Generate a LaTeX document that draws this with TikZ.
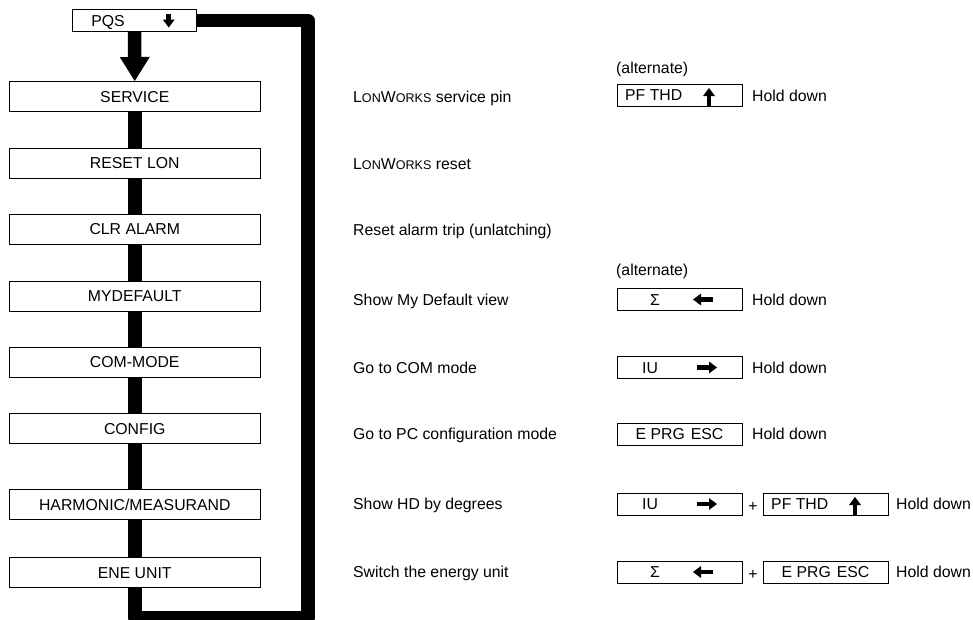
\documentclass[tikz,border=0pt]{standalone}
\usepackage{fontspec}
\setmainfont{Liberation Sans}
\usetikzlibrary{arrows.meta}
\newcommand{\smc}[1]{{\fontsize{12.6}{14}\selectfont #1}}
\begin{document}
\begin{tikzpicture}[x=1pt,y=-1pt,
  every node/.style={font=\fontsize{15.8}{18}\selectfont, inner sep=0pt, text height=11.3pt, text depth=0pt},
  menubox/.style={draw, line width=1pt, fill=white, minimum width=250.5pt, minimum height=30pt},
  keybox/.style={draw, line width=0.9pt, fill=white, minimum width=125pt, minimum height=22pt},
  desc/.style={anchor=west},
  flow/.style={line width=13.5pt},
  keyarrow/.style={line width=4.5pt, -{Triangle[length=8pt,width=12pt,line width=0pt]}},
]
\useasboundingbox (0,0) rectangle (973,619);

% left menu
\node[keybox, minimum width=124pt, minimum height=22.4pt] (pqs) at (134.7,20.5) {};
\node (pqst) at (108,20.5) {PQS};
\node[menubox] (service)   at (134.75,96.5) {SERVICE};
\node[menubox] (resetlon)  at (134.75,163)  {RESET LON};
\node[menubox] (clralarm)  at (134.75,229)  {CLR ALARM};
\node[menubox] (mydefault) at (134.75,296)  {MYDEFAULT};
\node[menubox] (commode)   at (134.75,362)  {COM-MODE};
\node[menubox] (config)    at (134.75,428.5) {CONFIG};
\node[menubox] (harmonic)  at (134.75,504.5) {HARMONIC/MEASURAND};
\node[menubox] (eneunit)   at (134.75,572.5) {ENE UNIT};

\draw[keyarrow] ([xshift=34pt,yshift=6.5pt]pqs.center) -- ([xshift=34pt,yshift=-7pt]pqs.center);

% flow
\draw[flow, -{Triangle[length=24pt,width=30pt,line width=0pt]}] (pqs) -- (service);
\draw[flow] (service) -- (resetlon);
\draw[flow] (resetlon) -- (clralarm);
\draw[flow] (clralarm) -- (mydefault);
\draw[flow] (mydefault) -- (commode);
\draw[flow] (commode) -- (config);
\draw[flow] (config) -- (harmonic);
\draw[flow] (harmonic) -- (eneunit);
\coordinate (lb) at (134.75,618);
\coordinate (rb) at (308,618);
\coordinate (rt) at (308,20.5);
\draw[flow, line join=round] (eneunit) -- (lb) -- (rb) -- (rt) -- (pqs);

% descriptions
\node[desc] (d1) at (353,97) {L\smc{ON}W\smc{ORKS} service pin};
\node[desc] (d2) at (353,164) {L\smc{ON}W\smc{ORKS} reset};
\node[desc] (d3) at (353,230) {Reset alarm trip (unlatching)};
\node[desc] (d4) at (353,300) {Show My Default view};
\node[desc] (d5) at (353,368) {Go to COM mode};
\node[desc] (d6) at (353,434) {Go to PC configuration mode};
\node[desc] (d7) at (353,504) {Show HD by degrees};
\node[desc] (d8) at (353,572) {Switch the energy unit};

% keys
\node[desc] (alt1) at (616,68) {(alternate)};
\node[keybox] (k1) at (679.5,95) {};
\node[desc] (k1t) at (625,95) {PF THD};
\draw[keyarrow] (709,105.5) -- (709,88);
\node[desc] (h1) at (752,95.5) {Hold down};

\node[desc] (alt4) at (616,270) {(alternate)};
\node[keybox] (k4) at (679.5,299.5) {};
\node (k4t) at (655,299.5) {Σ};
\draw[keyarrow] (713,299.5) -- (693,299.5);
\node[desc] (h4) at (752,300) {Hold down};

\node[keybox] (k5) at (679.5,367.5) {};
\node (k5t) at (650,367.5) {IU};
\draw[keyarrow] (697,367.5) -- (717,367.5);
\node[desc] (h5) at (752,368) {Hold down};

\node[keybox] (k6) at (679.5,434) {E PRG\hspace{6pt}ESC};
\node[desc] (h6) at (752,434) {Hold down};

\node[keybox] (k7a) at (679.5,504) {};
\node (k7at) at (650,504) {IU};
\draw[keyarrow] (697,504) -- (717,504);
\node (p7) at (753,506) {+};
\node[keybox] (k7b) at (825.5,504) {};
\node[desc] (k7bt) at (771,504) {PF THD};
\draw[keyarrow] (855,514.5) -- (855,497);
\node[desc] (h7) at (896,504) {Hold down};

\node[keybox] (k8a) at (679.5,572) {};
\node (k8at) at (655,572) {Σ};
\draw[keyarrow] (713,572) -- (693,572);
\node (p8) at (753,574) {+};
\node[keybox] (k8b) at (825.5,572) {E PRG\hspace{6pt}ESC};
\node[desc] (h8) at (896,572) {Hold down};
\end{tikzpicture}
\end{document}
